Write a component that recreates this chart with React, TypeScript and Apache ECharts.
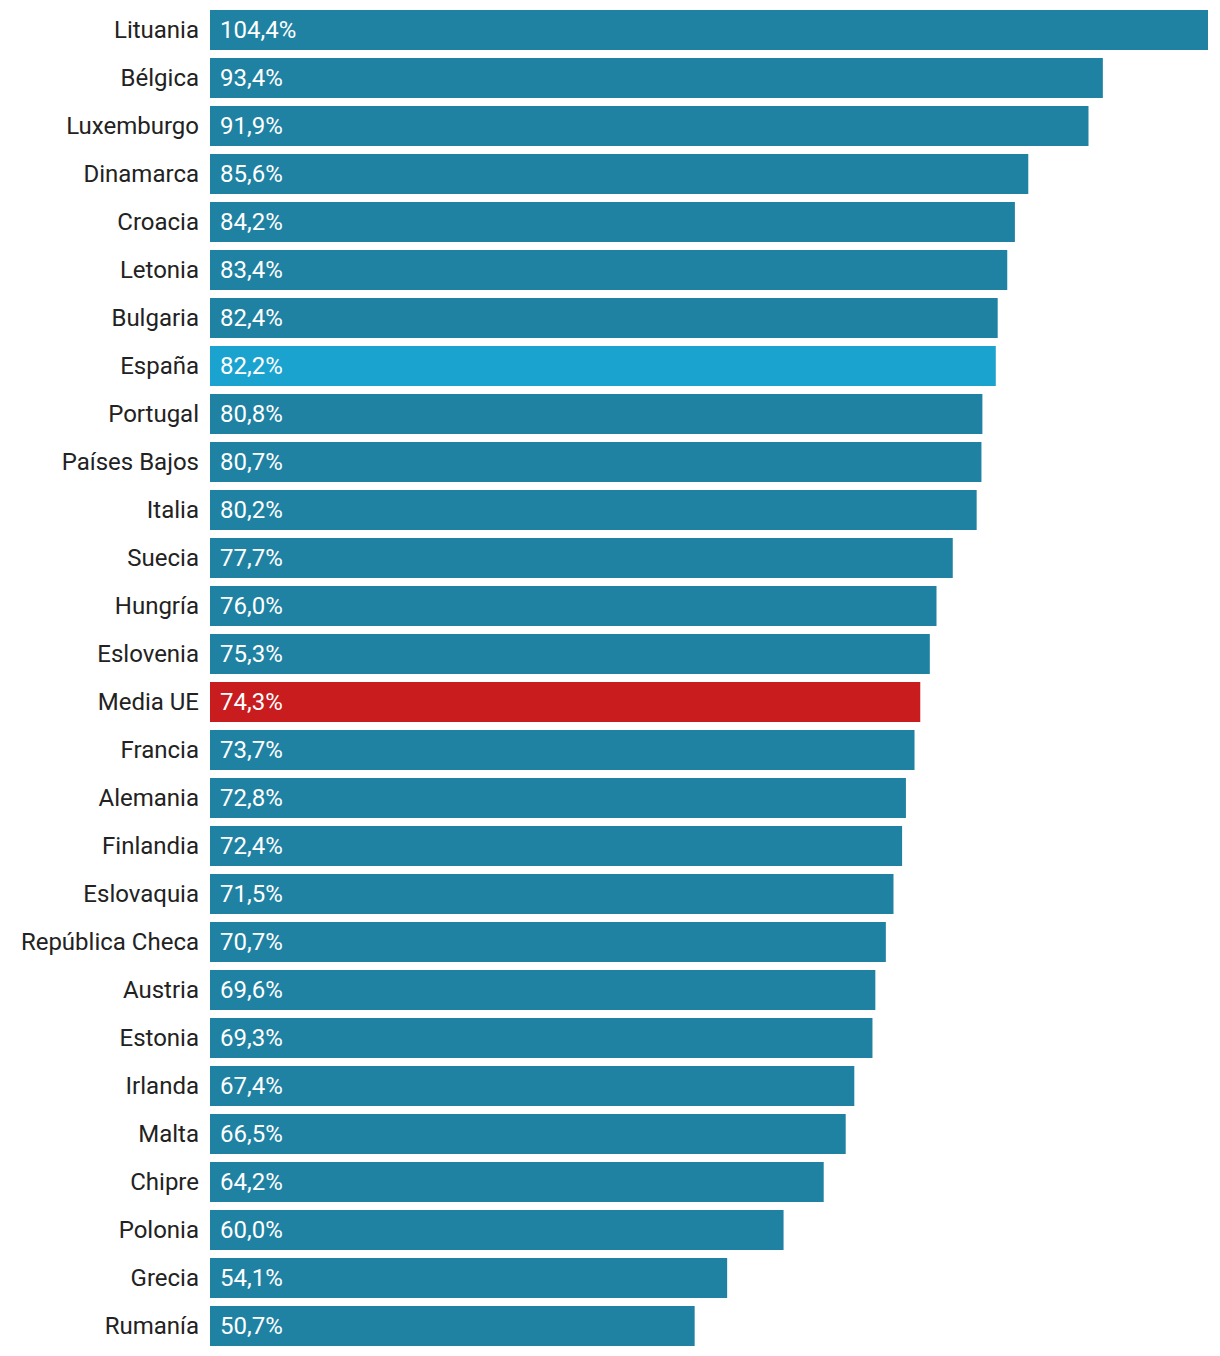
import React, { useEffect, useRef } from "react";
import * as echarts from "echarts";

const countries = [
  "Lituania", "Bélgica", "Luxemburgo", "Dinamarca", "Croacia", "Letonia", "Bulgaria",
  "España", "Portugal", "Países Bajos", "Italia", "Suecia", "Hungría", "Eslovenia",
  "Media UE", "Francia", "Alemania", "Finlandia", "Eslovaquia", "República Checa",
  "Austria", "Estonia", "Irlanda", "Malta", "Chipre", "Polonia", "Grecia", "Rumanía",
];

const values = [
  104.4, 93.4, 91.9, 85.6, 84.2, 83.4, 82.4,
  82.2, 80.8, 80.7, 80.2, 77.7, 76.0, 75.3,
  74.3, 73.7, 72.8, 72.4, 71.5, 70.7,
  69.6, 69.3, 67.4, 66.5, 64.2, 60.0, 54.1, 50.7,
];

const BASE = "#1f82a2";
const SPAIN = "#1aa3cf";
const EU = "#c81c1e";

export default function App() {
  const ref = useRef<HTMLDivElement>(null);
  useEffect(() => {
    if (!ref.current) return;
    const chart = echarts.init(ref.current, undefined, { renderer: "svg" });
    chart.setOption({
      animation: false,
      grid: { left: 210, right: 12, top: 6, bottom: 6, containLabel: false },
      xAxis: {
        type: "value",
        min: 0,
        max: 104.4,
        show: false,
      },
      yAxis: {
        type: "category",
        inverse: true,
        data: countries,
        axisLine: { show: false },
        axisTick: { show: false },
        splitLine: { show: false },
        axisLabel: {
          color: "#222222",
          fontFamily: "Roboto",
          fontSize: 24,
          fontWeight: "normal",
          margin: 11,
        },
      },
      series: [
        {
          type: "bar",
          barCategoryGap: "16.67%",
          data: values.map((v, i) => ({
            value: v,
            itemStyle: {
              color: countries[i] === "España" ? SPAIN : countries[i] === "Media UE" ? EU : BASE,
            },
          })),
          label: {
            show: true,
            position: "insideLeft",
            distance: 10,
            color: "#ffffff",
            fontFamily: "Roboto",
            fontSize: 24,
            fontWeight: "normal",
            formatter: (p: any) => Number(p.value).toFixed(1).replace(".", ",") + "%",
          },
        },
      ],
    });
    return () => chart.dispose();
  }, []);
  return (
    <div
      ref={ref}
      style={{ position: "absolute", left: 0, top: 0, width: 1220, height: 1356 }}
    />
  );
}
